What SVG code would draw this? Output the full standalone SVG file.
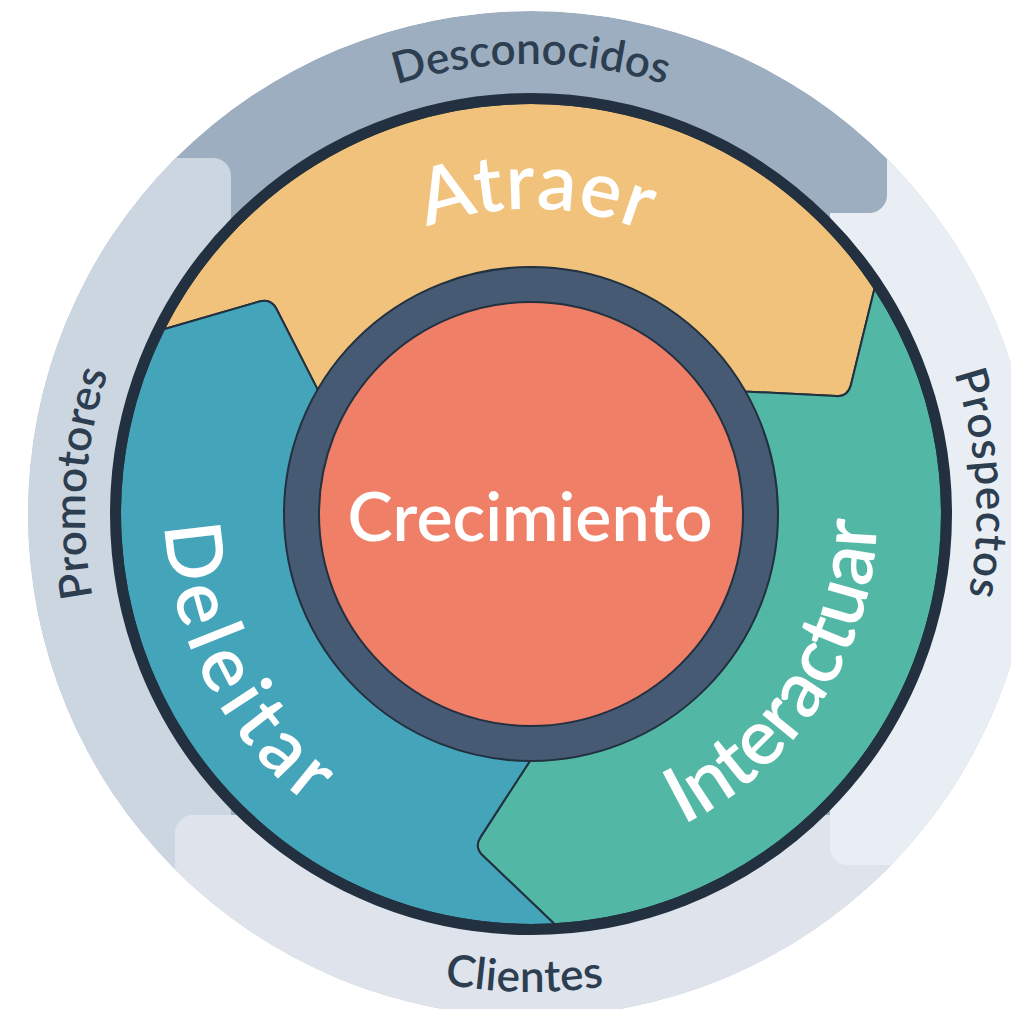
<svg xmlns="http://www.w3.org/2000/svg" width="1011" height="1009" viewBox="0 0 1011 1009">
<style>
.seg{stroke:#22303f;stroke-width:2;stroke-linejoin:round}
.big{font-family:Lato,"Liberation Sans",sans-serif;font-weight:600;font-size:78px;fill:#ffffff}
.band{font-family:Lato,"Liberation Sans",sans-serif;font-weight:600;font-size:44px;fill:#2c3e50}
</style>
<defs>
<clipPath id="outerClip"><circle cx="531" cy="514" r="503"/></clipPath>
<path id="pAtraer" d="M 269.6 356.9 A 305 305 0 0 1 797.8 366.1"/>
<path id="pInter" d="M 427.0 844.0 A 346 346 0 0 0 786.1 280.2"/>
<path id="pDeleitar" d="M 266.4 261.1 A 366 366 0 0 0 571.2 877.8"/>
<path id="pDesc" d="M 141.3 289 A 450 450 0 0 1 920.7 289"/>
<path id="pProsp" d="M 729.2 114.9 A 444 444 0 0 1 779.3 882.1"/>
<path id="pClientes" d="M 113.8 747.2 A 478 478 0 0 0 941.6 758.8"/>
<path id="pPromo" d="M 282.4 884.3 A 446 446 0 0 1 334.8 113.5"/>
</defs>
<rect width="1011" height="1009" fill="#ffffff"/>
<g id="outer-band" clip-path="url(#outerClip)">
  <circle id="band-desconocidos" cx="531" cy="514" r="503" fill="#9daec0"/>
  <rect id="band-promotores" x="-100" y="158" width="331" height="1000" rx="18" fill="#ccd6e1"/>
  <rect id="band-clientes" x="175" y="815" width="1000" height="400" rx="18" fill="#dee3ec"/>
  <path id="band-prospectos" d="M 830 213 H 869 A 18 18 0 0 0 887 195 V -100 H 1100 V 865 H 848 A 18 18 0 0 1 830 847 Z" fill="#e9eef4"/>
</g>
<g id="label-desconocidos"><text class="band"><textPath href="#pDesc" startOffset="50%" text-anchor="middle">Desconocidos</textPath></text></g>
<g id="label-prospectos"><text class="band" font-size="42" letter-spacing="1"><textPath href="#pProsp" startOffset="50%" text-anchor="middle">Prospectos</textPath></text></g>
<g id="label-clientes"><text class="band" letter-spacing="0.5"><textPath href="#pClientes" startOffset="50%" text-anchor="middle">Clientes</textPath></text></g>
<g id="label-promotores"><text class="band"><textPath href="#pPromo" startOffset="50%" text-anchor="middle">Promotores</textPath></text></g>
<g id="atraer">
  <path class="seg" fill="#f0c27b" d="M 163.8 329.3 A 411 411 0 0 1 874.5 288.4 L 850.9 385.0 Q 848 396.7 836.0 396.1 L 744.3 391.4 A 246 246 0 0 0 318.2 390.6 L 276.4 308.8 Q 270.9 298.1 259.4 301.5 Z"/>
  <text class="big" letter-spacing="1"><textPath href="#pAtraer" startOffset="50%" text-anchor="middle">Atraer</textPath></text>
</g>
<g id="interactuar">
  <path class="seg" fill="#52b8a5" d="M 874.5 288.4 A 411 411 0 0 1 554.7 924.3 L 482.7 855.5 Q 474 847.2 480.5 837.1 L 530.6 760 A 246 246 0 0 0 744.3 391.4 L 836.0 396.1 Q 848 396.7 850.9 385.0 Z"/>
  <text class="big"><textPath href="#pInter" startOffset="50%" text-anchor="middle">Interactuar</textPath></text>
</g>
<g id="deleitar">
  <path class="seg" fill="#44a4ba" d="M 554.7 924.3 A 411 411 0 0 1 163.8 329.3 L 259.4 301.5 Q 270.9 298.1 276.4 308.8 L 318.2 390.6 A 246 246 0 0 0 530.6 760 L 480.5 837.1 Q 474 847.2 482.7 855.5 Z"/>
  <text class="big" letter-spacing="7"><textPath href="#pDeleitar" startOffset="51%" text-anchor="middle">Deleitar</textPath></text>
</g>
<g id="rim"><circle cx="531" cy="514" r="415.5" fill="none" stroke="#23303f" stroke-width="11"/></g>
<g id="crecimiento">
  <circle cx="531" cy="514" r="247" fill="#465b73" stroke="#22303f" stroke-width="2"/>
  <circle cx="531" cy="514" r="212" fill="#f07f67" stroke="#22303f" stroke-width="2"/>
  <text x="530" y="541" text-anchor="middle" font-family="Lato, 'Liberation Sans', sans-serif" font-weight="600" font-size="68" fill="#ffffff">Crecimiento</text>
</g>
<g id="connectors"></g>
</svg>
